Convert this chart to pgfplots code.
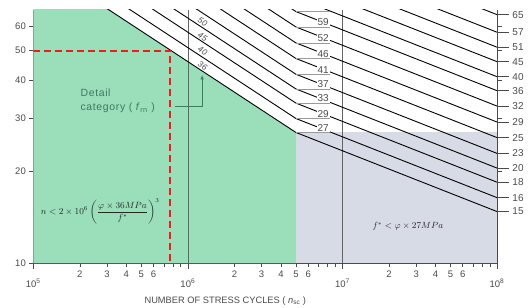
\documentclass[border=0pt]{standalone}
\usepackage{fontspec}
\setmainfont{Liberation Sans}
\usepackage{pgfplots}
\pgfplotsset{compat=1.18}
\definecolor{grn}{HTML}{9ADEBA}
\definecolor{gry}{HTML}{D7DBE5}
\definecolor{axc}{HTML}{4A4A4A}
\definecolor{txg}{HTML}{3E7A5C}
\definecolor{redd}{HTML}{EE1C1C}
\definecolor{ldr}{HTML}{9A9A9A}
\begin{document}
\begin{tikzpicture}
\begin{axis}[
  at={(0,0)}, anchor=south west,
  scale only axis, width=464pt, height=253.3pt,
  xmode=log, ymode=log,
  xmin=1e5, xmax=1e8, ymin=10, ymax=68,
  axis line style={-, draw=axc, line width=0.8pt},
  tick style={draw=axc, line width=0.6pt},
  tick align=outside,
  tick label style={font=\fontsize{9.5}{11}\selectfont, text=axc},
  axis x line*=bottom, axis y line*=left,
  ytick={10,20,30,40,50,60},
  yticklabels={10,20,30,40,50,60},
  major tick length=4pt,
  minor tick length=4pt,
  xtick={2e5,3e5,4e5,5e5,6e5,2e6,3e6,4e6,5e6,6e6,2e7,3e7,4e7,5e7,6e7},
  xticklabels={2,3,4,5,6,2,3,4,5,6,2,3,4,5,6},
  minor xtick={7e5,8e5,9e5,7e6,8e6,9e6,7e7,8e7,9e7},
  extra x ticks={1e5,1e6,1e7,1e8},
  extra x tick labels={10\textsuperscript{5},10\textsuperscript{6},10\textsuperscript{7},10\textsuperscript{8}},
  extra x tick style={major tick length=6pt, tick label style={yshift=-6pt}},
  xlabel={NUMBER OF STRESS CYCLES ( \textit{n}\textsubscript{sc} )},
  xlabel style={at={(axis description cs:0.414,-0.148)}, anchor=center, font=\fontsize{9.3}{11}\selectfont, text=axc},
]
% regions
\addplot[fill=grn, draw=none] coordinates {(1e5,10) (1e5,99.1) (5e6,26.9) (5e6,10)} -- cycle;
\addplot[fill=gry, draw=none] coordinates {(5e6,10) (5e6,26.9) (1e8,26.9) (1e8,10)} -- cycle;
% grid lines
\addplot[axc!85, line width=0.7pt] coordinates {(1e6,10) (1e6,68)};
\addplot[axc!85, line width=0.7pt] coordinates {(1e7,10) (1e7,68)};
% S-N curves (value at 1e5, knee at 5e6, end at 1e8)
\addplot[black, line width=0.9pt] coordinates {(1e5,99.1) (5e6,26.9) (1e8,14.78)};
\addplot[black, line width=0.9pt] coordinates {(1e5,110.2) (5e6,29.9) (1e8,16.42)};
\addplot[black, line width=0.9pt] coordinates {(1e5,123.8) (5e6,33.6) (1e8,18.46)};
\addplot[black, line width=0.9pt] coordinates {(1e5,137.8) (5e6,37.4) (1e8,20.54)};
\addplot[black, line width=0.9pt] coordinates {(1e5,154.0) (5e6,41.8) (1e8,22.96)};
\addplot[black, line width=0.9pt] coordinates {(1e5,173.5) (5e6,47.1) (1e8,25.87)};
\addplot[black, line width=0.9pt] coordinates {(1e5,195.3) (5e6,53.0) (1e8,29.11)};
\addplot[black, line width=0.9pt] coordinates {(1e5,220.3) (5e6,59.8) (1e8,32.85)};
\addplot[black, line width=0.9pt] coordinates {(1e5,247.6) (5e6,67.2) (1e8,36.91)};
\addplot[black, line width=0.9pt] coordinates {(1e5,275.2) (5e6,74.7) (1e8,41.03)};
\addplot[black, line width=0.9pt] coordinates {(1e5,308.4) (5e6,83.7) (1e8,45.98)};
\addplot[black, line width=0.9pt] coordinates {(1e5,344.1) (5e6,93.4) (1e8,51.30)};
\addplot[black, line width=0.9pt] coordinates {(1e5,385.3) (5e6,104.6) (1e8,57.46)};
\addplot[black, line width=0.9pt] coordinates {(1e5,440.2) (5e6,119.5) (1e8,65.64)};
% knee labels
\node[anchor=south east, fill=white, inner sep=1pt, font=\fontsize{10}{11}\selectfont, text=axc] at (axis cs:8.3e6,26.9) {27};
\node[anchor=south east, fill=white, inner sep=1pt, font=\fontsize{10}{11}\selectfont, text=axc] at (axis cs:8.3e6,29.9) {29};
\node[anchor=south east, fill=white, inner sep=1pt, font=\fontsize{10}{11}\selectfont, text=axc] at (axis cs:8.3e6,33.6) {33};
\node[anchor=south east, fill=white, inner sep=1pt, font=\fontsize{10}{11}\selectfont, text=axc] at (axis cs:8.3e6,37.4) {37};
\node[anchor=south east, fill=white, inner sep=1pt, font=\fontsize{10}{11}\selectfont, text=axc] at (axis cs:8.3e6,41.8) {41};
\node[anchor=south east, fill=white, inner sep=1pt, font=\fontsize{10}{11}\selectfont, text=axc] at (axis cs:8.3e6,47.1) {46};
\node[anchor=south east, fill=white, inner sep=1pt, font=\fontsize{10}{11}\selectfont, text=axc] at (axis cs:8.3e6,53.0) {52};
\node[anchor=south east, fill=white, inner sep=1pt, font=\fontsize{10}{11}\selectfont, text=axc] at (axis cs:8.3e6,59.8) {59};
% leaders
\addplot[ldr, line width=0.7pt] coordinates {(5e6,26.9) (8.3e6,26.9)};
\addplot[ldr, line width=0.7pt] coordinates {(5e6,29.9) (8.3e6,29.9)};
\addplot[ldr, line width=0.7pt] coordinates {(5e6,33.6) (8.3e6,33.6)};
\addplot[ldr, line width=0.7pt] coordinates {(5e6,37.4) (8.3e6,37.4)};
\addplot[ldr, line width=0.7pt] coordinates {(5e6,41.8) (8.3e6,41.8)};
\addplot[ldr, line width=0.7pt] coordinates {(5e6,47.1) (8.3e6,47.1)};
\addplot[ldr, line width=0.7pt] coordinates {(5e6,53.0) (8.3e6,53.0)};
\addplot[ldr, line width=0.7pt] coordinates {(5e6,59.8) (8.3e6,59.8)};
\addplot[ldr, line width=0.7pt] coordinates {(5e6,67.2) (8.3e6,67.2)};
% detail category labels on curves
\node[rotate=-33, font=\fontsize{8.3}{9}\selectfont\itshape, text=axc, inner sep=0pt] at (axis cs:1.246e6,44.6) {36};
\node[rotate=-33, font=\fontsize{8.3}{9}\selectfont\itshape, text=axc, inner sep=0pt] at (axis cs:1.246e6,49.9) {40};
\node[rotate=-33, font=\fontsize{8.3}{9}\selectfont\itshape, text=axc, inner sep=0pt] at (axis cs:1.246e6,55.4) {45};
\node[rotate=-33, font=\fontsize{8.3}{9}\selectfont\itshape, text=axc, inner sep=0pt] at (axis cs:1.246e6,62.1) {50};
% red dashed
\addplot[redd, line width=2pt, dash pattern=on 7pt off 4pt] coordinates {(1e5,50) (7.7e5,50) (7.7e5,10)};
% annotation arrow
\addplot[txg, line width=0.6pt, -latex] coordinates {(8.28e5,32.7) (1.236e6,32.7) (1.236e6,41.6)};
\node[anchor=west, align=left, font=\fontsize{10.5}{14}\selectfont\addfontfeature{LetterSpace=6}, text=txg] at (axis cs:1.92e5,34.2)
  {Detail\\category ( \textit{f}\textsubscript{rn} )};
% formulas
\node[font=\fontsize{9}{10}\selectfont, text=black!85] at (axis cs:2.71e5,14.8)
  {$n<2\times10^6\left(\displaystyle\frac{\varphi\times 36MPa}{f^*}\right)^{3}$};
\node[font=\fontsize{9}{10}\selectfont, text=black!85] at (axis cs:2.65e7,13.2)
  {$f^*<\varphi\times 27MPa$};
\end{axis}
\begin{axis}[
  at={(0,0)}, anchor=south west,
  scale only axis, width=464pt, height=253.3pt,
  xmode=log, ymode=log,
  xmin=1e5, xmax=1e8, ymin=10, ymax=68,
  axis line style={-, draw=axc, line width=0.8pt},
  tick style={draw=axc, line width=0.6pt},
  tick align=outside,
  tick label style={font=\fontsize{10}{11}\selectfont, text=axc},
  axis x line=none, axis y line*=right,
  ytick={14.78,16.42,18.46,20.54,22.96,25.87,29.11,32.85,36.91,41.03,45.98,51.30,57.46,65.64},
  yticklabels={15,16,18,20,23,25,29,32,36,40,45,51,57,65},
  major tick length=12pt,
  extra y ticks={20,30,40,50,60},
  extra y tick labels={},
  extra y tick style={major tick length=5pt},
]
\end{axis}
\pgfresetboundingbox
\path[use as bounding box] (-33.3pt,-44.7pt) rectangle (496pt,263.3pt);
\end{tikzpicture}
\end{document}
